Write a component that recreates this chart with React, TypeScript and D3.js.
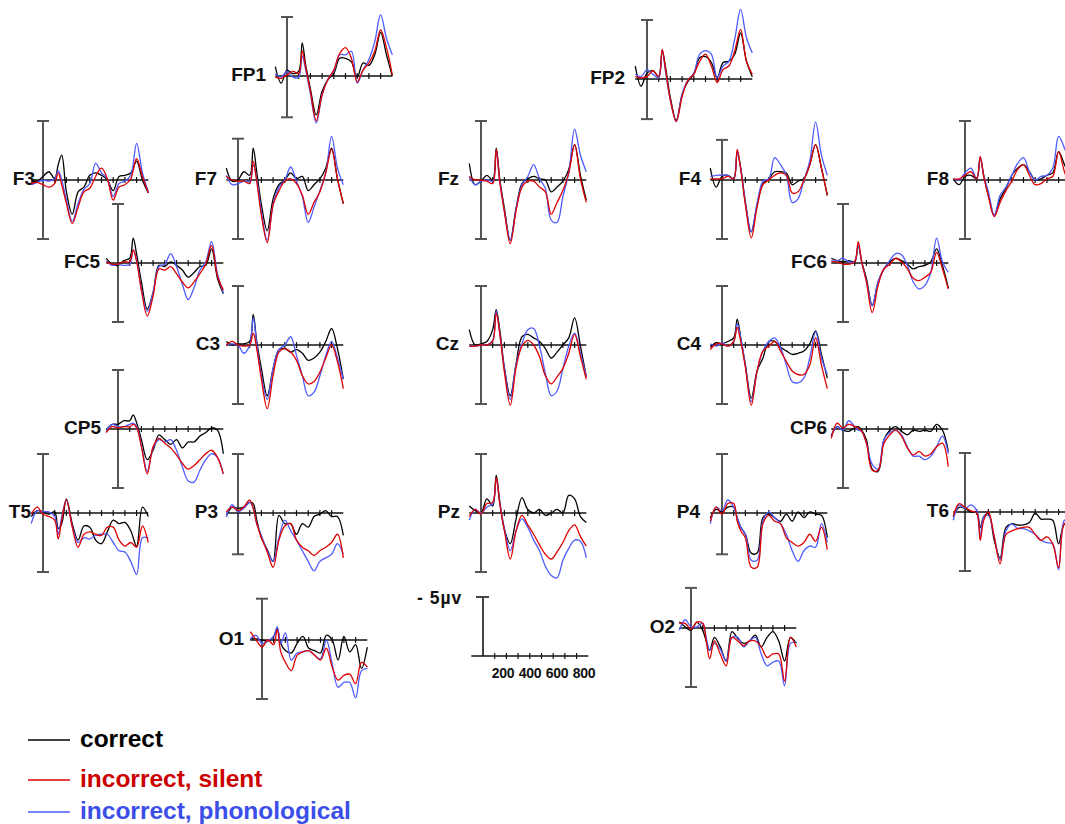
import React, { useEffect, useRef } from 'react';
import * as d3 from 'd3';

// time points (ms) shared by every waveform
const times = [-100, -50, 0, 50, 100, 130, 160, 200, 250, 300, 350, 400, 450, 500, 550, 600, 650, 700, 750, 800, 850, 900];
const axisTicks = [100, 200, 300, 400, 500, 600, 700, 800];
const scaleTicks = [200, 400, 600, 800];
const scaleLabel = '- 5µv';
const conditions = ['correct', 'incorrect, silent', 'incorrect, phonological'];

// amplitudes in µV (negative plotted up): C = correct, S = incorrect silent, P = incorrect phonological
const fp1C = [-0.8, 0.6, -0.5, -0.2, -0.4, -2.8, -0.9, 1.1, 3.3, 1.3, 0.3, -0.2, -1.5, -1.5, -1.2, 0.1, -1.1, -0.9, -1.8, -3.7, -1.8, 0];
const fp1S = [0.1, 0.2, -0.1, -0.4, -0.2, -2.1, -0.7, 1.3, 3.8, 1.6, 0.3, -0.5, -1.9, -2.4, -1.5, 0.5, -0.5, -1.1, -2.1, -3.9, -2.4, -0.1];
const fp1P = [-0.2, 0.1, -0.4, 0.1, 0.1, -1.7, -0.5, 1.5, 4.0, 1.6, 0.3, -0.4, -1.8, -1.8, -2.1, 0.6, -0.5, -1.4, -2.9, -5.2, -3.2, -1.8];

const fp2C = [-1.1, 0.6, -0.5, -0.7, -0.2, -2.4, -0.9, 1.6, 3.5, 1.3, 0.2, -0.4, -1.8, -1.9, -1.4, -0.1, -1.4, -1.5, -2.1, -3.9, -1.5, -0.2];
const fp2S = [-0.2, -0.1, -0.2, -0.7, -0.2, -2.5, -0.7, 1.8, 3.6, 1.5, 0.1, -0.4, -1.5, -2.1, -1.1, 0.3, -0.8, -1.1, -2.4, -4.2, -1.5, -0.4];
const fp2P = [-0.4, -0.2, -0.8, -0.4, -0.1, -2.4, -0.5, 1.8, 3.6, 1.3, 0.1, -0.5, -2.1, -2.4, -2.1, -0.1, -1.1, -1.5, -3.4, -5.9, -3.5, -2.2];

const f3C = [0.1, 0.1, -0.3, -0.7, -0.1, -1.3, -2.1, 1.0, 2.9, 1.0, 0.6, -0.4, -0.6, -0.4, 0, 0.9, -0.3, -0.4, -0.6, -1.6, 0, 1.1];
const f3S = [0.3, 0.2, 0.4, 0.6, 0.3, -0.6, 0.4, 2.0, 3.7, 2.3, 1.0, 0.7, -0.3, -1.0, -0.1, 1.7, 0.6, 0.4, -0.1, -1.8, -0.3, 1.1];
const f3P = [0.4, 0.2, 0, 0.1, -0.1, -0.8, 0, 1.7, 3.5, 2.0, 0.8, 0.3, -1.4, -0.6, -0.1, 1.4, 0.3, 0.1, -0.4, -3.1, -0.6, 1.0];

const f7C = [-1.0, 0.1, 0, -0.7, -0.4, -2.7, -0.7, 2.1, 4.3, 1.6, 0.4, 0, -0.6, -0.1, -0.3, 0.9, 0.4, -0.1, -1.0, -2.7, -0.1, 2.0];
const f7S = [-0.3, 0, 0.1, 0.1, 0.3, -1.6, 0.1, 3.0, 5.3, 2.1, 0.9, 0.1, -0.1, 0.3, 1.3, 2.9, 1.9, 1.0, -0.6, -2.6, -0.1, 2.0];
const f7P = [-0.4, 0.4, 0.3, 0.1, 0.1, -1.3, -0.1, 2.7, 5.1, 2.1, 0.6, 0, -1.1, 0.1, 1.4, 3.6, 2.3, 0.9, -0.6, -3.7, -1.0, 0.4];

const fzC = [-1.4, 0.4, 0.1, -0.4, 0, -2.7, -0.1, 2.4, 5.1, 2.4, 0.3, -0.1, -0.3, -0.1, 0, 1.0, 0.6, 0.1, -0.9, -3.0, -0.4, 1.7];
const fzS = [-0.3, 0, 0, 0.1, 0.3, -2.6, 0.1, 2.7, 5.4, 2.6, 0.6, 0.1, 0.1, 0.6, 1.0, 2.9, 1.9, 0.9, -0.6, -3.0, -0.1, 1.9];
const fzP = [-0.3, 0.4, 0.1, 0, 0.1, -2.4, 0.1, 2.6, 5.1, 2.4, 0.4, -0.3, -1.3, -0.1, 0.7, 3.4, 3.6, 1.4, -0.6, -4.3, -2.1, -0.7];

const f4C = [-1.0, 0.6, -0.3, -0.4, -0.1, -2.4, -1.0, 1.9, 4.4, 2.1, 0.3, -0.1, -0.7, -0.7, -0.6, 0.4, 0.1, -0.1, -1.3, -3.0, -1.0, 1.3];
const f4S = [-0.1, -0.1, -0.1, -0.3, -0.1, -2.6, -0.9, 2.1, 4.9, 2.3, 0.4, 0, -0.4, -0.6, -0.4, 1.1, 1.0, 0, -1.3, -3.0, -1.0, 1.3];
const f4P = [-0.3, -0.4, -0.4, -0.4, -0.1, -2.3, -1.0, 1.9, 4.4, 2.0, 0.1, -0.1, -1.9, -1.3, -0.4, 1.9, 1.6, 0, -1.6, -4.9, -2.1, -0.4];

const f8C = [-0.1, 0.4, -0.3, -0.4, -0.1, -1.9, -0.4, 1.3, 3.0, 1.6, 0.7, -0.4, -1.0, -1.3, -0.7, 0, -0.1, -0.4, -0.6, -2.4, -1.3, -0.1];
const f8S = [-0.1, -0.1, -0.4, -0.7, -0.1, -2.0, -0.3, 1.4, 3.1, 1.9, 0.9, 0.1, -0.9, -1.3, -0.4, 0.4, 0.3, -0.1, -0.3, -2.4, -0.7, 0.4];
const f8P = [-0.1, 0, -0.6, -1.0, -0.1, -1.9, -0.4, 1.0, 3.0, 1.3, 0.6, -0.4, -1.4, -1.9, -0.7, 0, -0.3, -0.4, -1.0, -3.7, -2.7, -1.3];

const fc5C = [-0.4, 0.1, 0.2, -0.2, -0.4, -2.1, -0.7, 1.6, 3.9, 2.5, 0.2, 0.3, -0.1, 0.2, 0.6, 1.2, 0.8, 0.3, 0.2, -1.2, 1.3, 2.6];
const fc5S = [-0.1, 0.1, 0.1, -0.1, -0.1, -1.1, -0.1, 2.3, 4.5, 2.8, 0.5, 0.6, 0.3, 0.9, 1.6, 2.1, 1.6, 0.9, 0.1, -1.5, 1.1, 2.3];
const fc5P = [-0.2, 0.2, 0.1, 0.2, 0.1, -1.1, -0.2, 2.2, 4.1, 2.5, 0.3, 0.1, -0.8, 0.3, 1.8, 3.1, 2.1, 0.6, -0.1, -1.8, 0.9, 2.5];

const fc6C = [-0.4, -0.2, -0.1, -0.2, -0.1, -1.5, -0.1, 1.3, 3.6, 1.6, 0.5, -0.1, -0.4, -0.2, 0.1, 0.5, 0.3, 0.2, -0.1, -1.2, 0.2, 2.1];
const fc6S = [-0.1, -0.1, 0.1, 0.1, -0.1, -1.8, -0.1, 1.6, 4.2, 1.9, 0.5, 0.1, -0.4, -0.1, 0.5, 1.3, 1.5, 1.2, 0.8, -0.9, 0.5, 2.2];
const fc6P = [-0.2, -0.2, -0.4, -0.1, -0.1, -1.5, -0.1, 1.5, 3.6, 1.6, 0.5, -0.2, -0.8, -0.7, 0.2, 1.6, 2.2, 1.9, 0.8, -2.1, -0.1, 0.8];

const c3C = [-0.3, 0, -0.1, -0.1, -0.3, -2.6, -0.3, 2.0, 4.3, 2.0, 0.4, 0.3, 0.6, 0.4, 0.7, 1.3, 1.1, 0.6, -0.3, -1.4, 0.3, 2.9];
const c3S = [0, -0.3, 0, 0.1, 0, -1.0, 0.3, 2.9, 5.4, 2.6, 0.6, 0.3, 0.6, 1.3, 2.6, 3.3, 3.1, 2.3, 1.1, 0, 1.4, 3.7];
const c3P = [0, -0.1, 0, 0.7, 0, -2.3, -0.1, 2.6, 4.6, 2.0, 0.4, 0, -0.7, 0.9, 2.6, 4.3, 4.0, 2.6, 0.9, -0.3, 1.1, 2.9];

const czC = [-1.3, 0, -0.1, -0.3, -1.3, -3.0, -1.3, 1.9, 4.3, 1.6, -0.7, -0.9, -0.6, -0.3, 0.3, 1.1, 0.6, 0, -0.6, -2.3, 0.1, 2.7];
const czS = [0.1, 0.1, 0, 0, -0.3, -2.7, -1.0, 2.3, 5.1, 1.9, 0.1, -0.4, 0, 1.0, 2.6, 3.3, 2.7, 2.0, 0.7, -0.9, 1.0, 2.9];
const czP = [0.1, 0.1, 0, 0, -0.4, -2.9, -1.0, 2.0, 4.6, 1.6, -0.1, -1.3, -1.4, 0.1, 2.4, 4.3, 3.9, 2.0, 0.1, -1.0, 0.7, 2.7];

const c4C = [0.2, -0.2, -0.1, -0.3, -0.6, -2.2, -0.6, 1.7, 4.5, 2.2, 1.1, -0.3, -0.3, 0.2, 0.5, 0.8, 0.7, 0.5, -0.1, -1.2, 0.8, 2.8];
const c4S = [0.4, -0.1, -0.1, 0.1, -0.3, -1.5, -0.3, 1.9, 5.1, 2.2, 0.5, 0.1, -0.3, 0.5, 1.4, 2.2, 2.5, 2.5, 1.7, -0.6, 1.7, 3.7];
const c4P = [-0.1, 0.1, -0.2, 0.1, -0.3, -1.8, -0.6, 1.7, 4.8, 2.2, 0.5, -0.3, -0.6, 0.2, 1.7, 3.1, 3.2, 2.8, 1.1, -1.1, 1.1, 2.5];

const cp5C = [0.1, -0.4, -0.4, -0.7, -0.7, -1.2, -0.5, 0.9, 2.6, 1.8, 0.5, 0.9, 1.3, 0.9, 1.6, 1.1, 1.1, 0.6, 0.3, -0.1, 0.1, 2.1];
const cp5S = [0.3, -0.2, -0.1, -0.2, -0.2, -0.4, -0.1, 1.5, 3.8, 1.5, 0.8, 1.2, 1.6, 2.2, 2.9, 3.4, 3.1, 2.6, 2.1, 1.8, 2.4, 3.8];
const cp5P = [0.2, -0.4, -0.2, -0.2, -0.4, -0.5, -0.2, 1.4, 3.6, 1.6, 0.9, 1.1, 0.9, 1.8, 3.2, 4.4, 4.5, 3.5, 2.6, 2.1, 2.4, 3.8];

const cp6C = [0.6, -0.2, 0.1, 0.2, -0.1, -0.2, 0.1, 0.9, 3.4, 3.6, 0.9, 0.1, -0.2, 0.2, 0.5, 0.1, 0.2, 0.1, 0.2, -0.4, 0.1, 1.9];
const cp6S = [0.8, -0.5, -0.1, -0.4, -0.2, -0.1, 0.2, 1.2, 3.5, 3.5, 1.2, 0.5, 0.1, 0.6, 1.6, 2.2, 1.9, 2.3, 2.1, 1.5, 1.2, 3.2];
const cp6P = [0.5, -0.2, 0.1, -0.7, -0.2, 0.1, 0.2, 1.2, 3.0, 3.4, 0.9, 0.3, 0.1, 0.5, 1.5, 2.3, 2.3, 2.6, 2.3, 1.5, 0.6, 2.1];

const t5C = [0.3, -0.2, -0.1, 0.1, -0.1, 1.3, 0.9, -1.2, 0.9, 2.3, 1.1, 1.2, 2.3, 2.6, 1.6, 0.6, 0.9, 0.8, 1.5, 2.8, -0.5, 0.3];
const t5S = [0.1, -0.5, 0.1, 0.3, 0.6, 2.2, 0.6, -1.1, 1.2, 2.9, 1.8, 1.6, 1.8, 1.9, 1.2, 1.2, 2.3, 2.8, 2.5, 2.9, 1.1, 2.5];
const t5P = [0.9, -0.2, -0.1, -0.1, 0.3, 1.8, 0.3, -1.1, 1.1, 2.5, 2.1, 2.2, 1.9, 1.8, 1.8, 2.5, 3.2, 3.3, 4.1, 5.2, 2.1, 2.1];

const p3C = [0.3, -0.5, -0.4, -0.5, -0.9, -0.8, 0.6, 2.1, 3.1, 4.1, 0.2, 0.9, 0.9, 1.8, 0.9, 1.2, 0.3, 0.1, -0.2, 0.3, 0.3, 1.9];
const p3S = [-0.1, -0.5, -0.2, -0.5, -1.1, -0.4, 0.9, 2.1, 3.3, 4.6, 2.3, 1.1, 0.9, 2.3, 2.9, 3.2, 3.6, 3.2, 2.9, 2.5, 1.8, 3.8];
const p3P = [0.3, -0.7, -0.1, -0.4, -0.9, -0.4, 0.9, 1.9, 3.2, 4.1, 2.1, 0.6, 1.5, 2.3, 3.2, 4.1, 4.9, 4.1, 3.8, 3.5, 2.6, 3.5];

const pzC = [-0.6, -0.2, 0, -1.2, -0.6, -3.2, -1.0, 1.4, 2.6, 0.5, -1.3, -0.3, 0, -0.3, 0.2, 0, -0.3, 0, -1.5, -1.2, 0.3, 0.8];
const pzS = [0.3, -0.3, 0.1, -0.8, -0.9, -3.0, -0.8, 1.5, 3.9, 1.5, 0.2, 1.0, 1.8, 2.7, 3.5, 3.9, 3.3, 2.5, 1.5, 1.0, 2.0, 2.8];
const pzP = [0.6, -0.3, 0, -0.5, -0.8, -2.9, -0.9, 1.3, 3.2, 1.5, 0.5, 1.2, 2.3, 3.2, 4.5, 5.3, 5.5, 4.0, 3.0, 2.3, 2.4, 3.8];

const p4C = [0.4, -0.3, -0.1, -0.5, -0.5, 0.4, 1.2, 1.8, 3.4, 3.4, 0.4, 0.1, 0.4, 0.7, 0.1, 0.7, -0.1, 0.4, -0.1, 0.1, 0.2, 2.1];
const p4S = [0.7, -0.5, 0.1, -0.8, -0.8, 0.7, 1.5, 2.1, 4.6, 4.6, 0.9, 0.2, 0.7, 0.9, 2.1, 2.5, 2.8, 2.5, 1.8, 2.4, 1.2, 3.1];
const p4P = [0.9, -0.5, -0.2, -1.1, -0.5, 0.4, 1.2, 1.8, 4.0, 4.0, 0.7, -0.1, 0.4, 0.9, 1.8, 3.2, 4.1, 3.2, 2.8, 2.9, 0.9, 2.5];

const t6C = [0.4, -0.4, -0.3, 0, 0, 1.3, 0.4, 0.1, 2.4, 3.9, 1.3, 1.0, 1.1, 1.1, 0.9, 0.1, 0.6, 0.6, 0.7, 2.7, 1.0, 1.0];
const t6S = [0.3, -0.7, -0.4, -0.1, 0.1, 2.4, 0.7, 0, 2.1, 4.4, 1.9, 1.6, 1.4, 1.3, 1.3, 1.9, 2.4, 2.1, 2.7, 4.7, 1.0, 1.0];
const t6P = [0.7, -0.6, -0.3, -0.6, -0.1, 2.1, 0.4, 0.3, 2.1, 4.1, 1.6, 1.0, 1.4, 1.4, 1.6, 1.9, 2.4, 2.6, 2.7, 4.9, 0.7, 0.7];

const o1C = [-0.1, -0.1, 0, 0.1, -0.3, -1.0, 0.3, 0.9, 1.1, 0.3, -0.3, 0.7, 0.9, 1.1, -0.4, 0, 1.7, -0.3, 1.0, 0.4, 2.4, 0.6];
const o1S = [-0.7, 0, 0.6, 0, 0.4, -0.9, 1.0, 1.9, 2.6, 1.3, 1.0, 0.9, 1.3, 1.7, 0.7, 2.3, 3.4, 3.0, 2.9, 3.7, 1.9, 2.3];
const o1P = [-0.1, -0.4, 0.3, 0.1, -0.3, -1.1, 0.3, -0.6, 1.7, 1.1, 1.0, 0.9, 1.3, 1.6, 0, 2.0, 4.0, 3.6, 3.6, 4.9, 2.6, 2.4];

const o2C = [-0.5, -0.1, 0.2, -0.5, 0.2, 1.1, 1.9, 0.8, 1.6, 2.8, 0.3, 0.9, 1.3, 1.1, 0.6, 1.6, 0.8, 0.3, 1.1, 2.8, 0.8, 1.3];
const o2S = [-0.4, -0.4, 0.1, -0.5, -0.4, 1.1, 2.6, 1.1, 2.2, 3.2, 0.8, 1.1, 1.5, 1.1, 1.1, 1.6, 2.5, 2.2, 2.2, 4.5, 0.8, 1.6];
const o2P = [0.2, -0.7, -0.1, -0.1, -0.4, 0.8, 1.9, 1.3, 1.8, 2.8, 0.8, 0.8, 1.6, 1.1, 0.8, 2.2, 3.2, 2.9, 2.8, 4.9, 1.3, 1.2];

const waves: Record<string, number[][]> = {
  FP1: [fp1C, fp1S, fp1P], FP2: [fp2C, fp2S, fp2P],
  F3: [f3C, f3S, f3P], F7: [f7C, f7S, f7P], Fz: [fzC, fzS, fzP], F4: [f4C, f4S, f4P], F8: [f8C, f8S, f8P],
  FC5: [fc5C, fc5S, fc5P], FC6: [fc6C, fc6S, fc6P],
  C3: [c3C, c3S, c3P], Cz: [czC, czS, czP], C4: [c4C, c4S, c4P],
  CP5: [cp5C, cp5S, cp5P], CP6: [cp6C, cp6S, cp6P],
  T5: [t5C, t5S, t5P], P3: [p3C, p3S, p3P], Pz: [pzC, pzS, pzP], P4: [p4C, p4S, p4P], T6: [t6C, t6S, t6P],
  O1: [o1C, o1S, o1P], O2: [o2C, o2S, o2P],
};

// head layout: x of the 0 ms line, y of the baseline, vertical bar extent in µV, label gap
const layout = [
  { ch: 'FP1', x: 287, y: 76, top: -5, bot: 3.5, gap: 21 },
  { ch: 'FP2', x: 647, y: 79, top: -5, bot: 3.4, gap: 22 },
  { ch: 'F3', x: 43, y: 180, top: -5, bot: 5, gap: 8 },
  { ch: 'F7', x: 238, y: 180, top: -3.5, bot: 5, gap: 21 },
  { ch: 'Fz', x: 481, y: 180, top: -5, bot: 5, gap: 22 },
  { ch: 'F4', x: 722, y: 180, top: -3.4, bot: 5, gap: 21 },
  { ch: 'F8', x: 965, y: 180, top: -5, bot: 5, gap: 16 },
  { ch: 'FC5', x: 118, y: 263, top: -5, bot: 5, gap: 18 },
  { ch: 'FC6', x: 843, y: 263, top: -5, bot: 5, gap: 16 },
  { ch: 'C3', x: 238, y: 345, top: -5, bot: 5, gap: 18 },
  { ch: 'Cz', x: 481, y: 345, top: -5, bot: 5, gap: 22 },
  { ch: 'C4', x: 722, y: 345, top: -5, bot: 5, gap: 21 },
  { ch: 'CP5', x: 118, y: 429, top: -5, bot: 5, gap: 17 },
  { ch: 'CP6', x: 843, y: 429, top: -5, bot: 5, gap: 16 },
  { ch: 'T5', x: 43, y: 513, top: -5, bot: 5, gap: 12 },
  { ch: 'P3', x: 238, y: 513, top: -5, bot: 3.5, gap: 20 },
  { ch: 'Pz', x: 481, y: 513, top: -5, bot: 5, gap: 21 },
  { ch: 'P4', x: 722, y: 513, top: -5, bot: 3.5, gap: 22 },
  { ch: 'T6', x: 965, y: 512, top: -5, bot: 5, gap: 16 },
  { ch: 'O1', x: 262, y: 640, top: -3.5, bot: 5, gap: 18 },
  { ch: 'O2', x: 691, y: 628, top: -3.4, bot: 5, gap: 16 },
];

const lineColors = ['#000000', '#e00000', '#4f5bff'];
const textColors = ['#000000', '#cc0000', '#3b4fe8'];
const font = "'Liberation Sans', Arial, sans-serif";

export default function App() {
  const ref = useRef<SVGSVGElement>(null);

  useEffect(() => {
    const svg = d3.select(ref.current);
    svg.selectAll('*').remove();

    layout.forEach(p => {
      const x = d3.scaleLinear().domain([-100, 900]).range([p.x - 11.7, p.x + 105.3]);
      const y = d3.scaleLinear().domain([-5, 5]).range([p.y - 59, p.y + 59]);
      const g = svg.append('g').attr('class', 'panel-' + p.ch);

      // vertical calibration bar with caps
      g.append('line')
        .attr('x1', p.x).attr('x2', p.x)
        .attr('y1', y(p.top)).attr('y2', y(p.bot))
        .attr('stroke', '#555').attr('stroke-width', 2);
      g.selectAll('line.cap')
        .data([p.top, p.bot])
        .enter().append('line')
          .attr('class', 'cap')
          .attr('x1', p.x - 6).attr('x2', p.x + 6)
          .attr('y1', d => y(d)).attr('y2', d => y(d))
          .attr('stroke', '#555').attr('stroke-width', 2);

      // time axis
      g.append('line')
        .attr('x1', x(-100)).attr('x2', x(900))
        .attr('y1', y(0)).attr('y2', y(0))
        .attr('stroke', '#111').attr('stroke-width', 1.6);
      g.selectAll('line.tick')
        .data(axisTicks)
        .enter().append('line')
          .attr('class', 'tick')
          .attr('x1', d => x(d)).attr('x2', d => x(d))
          .attr('y1', y(0) - 3).attr('y2', y(0) + 3)
          .attr('stroke', '#111').attr('stroke-width', 1.2);

      g.append('text')
        .attr('x', p.x - p.gap)
        .attr('y', y(0) + 5)
        .attr('text-anchor', 'end')
        .attr('font-family', font)
        .attr('font-weight', 'bold')
        .attr('font-size', 19)
        .attr('fill', '#111')
        .text(p.ch);

      const line = d3.line<number>()
        .x((d, i) => x(times[i]))
        .y(d => y(d))
        .curve(d3.curveCatmullRom.alpha(0.5));

      // draw black, then blue, then red on top
      [0, 2, 1].forEach(k => {
        g.append('path')
          .attr('d', line(waves[p.ch][k]))
          .attr('fill', 'none')
          .attr('stroke', lineColors[k])
          .attr('stroke-width', 1.3);
      });
    });

    // scale panel
    const sx = d3.scaleLinear().domain([-100, 900]).range([483 - 11.7, 483 + 105.3]);
    const sy = d3.scaleLinear().domain([-5, 0]).range([597, 656]);
    const labelX = d3.scaleLinear().domain([200, 800]).range([503, 584]);
    const sg = svg.append('g').attr('class', 'scale');
    sg.append('line')
      .attr('x1', sx(0)).attr('x2', sx(0))
      .attr('y1', sy(-5)).attr('y2', sy(0))
      .attr('stroke', '#444').attr('stroke-width', 2);
    sg.append('line')
      .attr('x1', sx(0) - 7).attr('x2', sx(0) + 6)
      .attr('y1', sy(-5)).attr('y2', sy(-5))
      .attr('stroke', '#444').attr('stroke-width', 2);
    sg.append('line')
      .attr('x1', sx(-100)).attr('x2', sx(900))
      .attr('y1', sy(0)).attr('y2', sy(0))
      .attr('stroke', '#111').attr('stroke-width', 1.6);
    sg.selectAll('line.tick')
      .data(axisTicks)
      .enter().append('line')
        .attr('class', 'tick')
        .attr('x1', d => sx(d)).attr('x2', d => sx(d))
        .attr('y1', sy(0) - 3).attr('y2', sy(0) + 3)
        .attr('stroke', '#111').attr('stroke-width', 1.2);
    sg.selectAll('text.tl')
      .data(scaleTicks)
      .enter().append('text')
        .attr('class', 'tl')
        .attr('x', d => labelX(d))
        .attr('y', 678)
        .attr('text-anchor', 'middle')
        .attr('font-family', font)
        .attr('font-weight', 'bold')
        .attr('font-size', 14)
        .attr('letter-spacing', -0.3)
        .attr('fill', '#111')
        .text(d => String(d));
    sg.append('text')
      .attr('x', 417)
      .attr('y', 604)
      .attr('font-family', font)
      .attr('font-weight', 'bold')
      .attr('font-size', 17.5)
      .attr('letter-spacing', 1)
      .attr('fill', '#111')
      .text(scaleLabel);

    // legend
    const legendY = [740, 780, 812];
    const lg = svg.append('g').attr('class', 'legend');
    conditions.forEach((c, i) => {
      lg.append('line')
        .attr('x1', 28).attr('x2', 70)
        .attr('y1', legendY[i]).attr('y2', legendY[i])
        .attr('stroke', lineColors[i]).attr('stroke-width', 1.6);
      lg.append('text')
        .attr('x', 80)
        .attr('y', legendY[i] + 6.5)
        .attr('font-family', font)
        .attr('font-weight', 'bold')
        .attr('font-size', 24.5)
        .attr('fill', textColors[i])
        .text(c);
    });
  }, []);

  return (
    <svg
      ref={ref}
      width={1065}
      height={824}
      style={{ position: 'absolute', left: 0, top: 0, background: '#fff' }}
    />
  );
}
